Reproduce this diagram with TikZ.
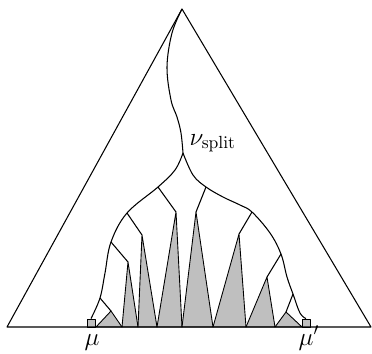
\documentclass[tikz,border=0pt]{standalone}
\usepackage{tikz}

\tikzset{
	leafbox/.style={draw, fill=black!25, rectangle, inner sep=0pt, minimum size=0.16cm, line width=0.5pt},
	subtree/.style={draw, fill=black!25, line width=0.5pt},
	lbl/.style={font=\Large, inner sep=0pt}
}

\begin{document}
\begin{tikzpicture}[x=0.02cm, y=-0.02cm, line width=0.6pt, line join=round]
	\useasboundingbox (0,0) rectangle (372,353);
	% outer triangle
	\coordinate (top) at (182,9);
	\coordinate (bl) at (7,327);
	\coordinate (br) at (371,327);
	% split point and branch points
	\coordinate (split) at (183,153);
	\coordinate (l1) at (158,187);
	\coordinate (l2) at (127,213);
	\coordinate (l3) at (111,242);
	\coordinate (l4) at (100,298);
	\coordinate (r1) at (206,187);
	\coordinate (r2) at (252,212);
	\coordinate (r3) at (281,254);
	\coordinate (r4) at (293,294);
	% apexes of the grey subtrees
	\coordinate (a1) at (111,311);
	\coordinate (a2) at (128,262);
	\coordinate (a3) at (142,235);
	\coordinate (a4) at (176,212);
	\coordinate (a5) at (196,212);
	\coordinate (a6) at (239,234);
	\coordinate (a7) at (267,277);
	\coordinate (a8) at (286,312);
	% feet on the base line
	\foreach \i/\x in {1/96,2/122,3/138,4/157,5/182,6/213,7/246,8/275,9/302}
		\coordinate (b\i) at (\x,327);
	% grey subtrees
	\path[subtree] (b1) -- (a1) -- (b2) -- cycle;
	\path[subtree] (b2) -- (a2) -- (b3) -- cycle;
	\path[subtree] (b3) -- (a3) -- (b4) -- cycle;
	\path[subtree] (b4) -- (a4) -- (b5) -- cycle;
	\path[subtree] (b5) -- (a5) -- (b6) -- cycle;
	\path[subtree] (b6) -- (a6) -- (b7) -- cycle;
	\path[subtree] (b7) -- (a7) -- (b8) -- cycle;
	\path[subtree] (b8) -- (a8) -- (b9) -- cycle;
	% leaves
	\node[leafbox] (mu) at (91,323) {};
	\node[leafbox] (mup) at (306,323) {};
	\draw (top) -- (bl) -- (br) -- cycle;
	% path from the root down to the split
	\draw plot[smooth, tension=0.6] coordinates {(top) (172,33) (167,67) (171,100) (177,117) (181,133) (split)};
	% left and right spines
	\draw plot[smooth, tension=0.6] coordinates {(split) (175,170) (l1) (l2) (l3) (105,273) (l4) (mu.north)};
	\draw plot[smooth, tension=0.6] coordinates {(split) (193,175) (r1) (223,197) (240,205) (r2) (270,233) (r3) (287,277) (r4) (300,313) (mup.north)};
	% branches to the subtrees
	\draw (l1) -- (a4);
	\draw (l2) -- (a3);
	\draw (l3) -- (a2);
	\draw (l4) -- (a1);
	\draw (r1) -- (a5);
	\draw (r2) -- (a6);
	\draw (r3) -- (a7);
	\draw (r4) -- (a8);
	% labels
	\node[lbl, anchor=base west] (splitlabel) at (189,145) {$\nu_{\mathrm{split}}$};
	\node[lbl, anchor=base] (mulabel) at (92,345) {$\mu$};
	\node[lbl, anchor=base] (muplabel) at (309,345) {$\mu'$};
\end{tikzpicture}
\end{document}
